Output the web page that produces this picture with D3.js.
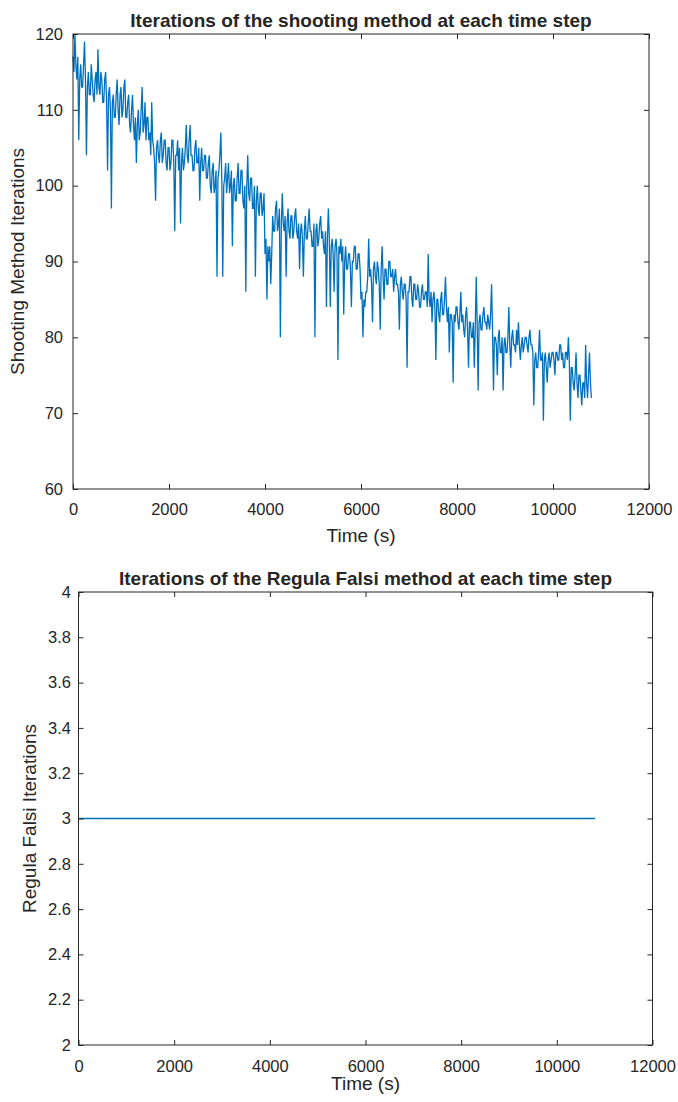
<!DOCTYPE html>
<html>
<head>
<meta charset="utf-8">
<title>Shooting method / Regula Falsi iterations</title>
<script src="https://d3js.org/d3.v7.min.js"></script>
<style>
  body { margin: 0; background: #fff; }
  svg text { font-family: "Liberation Sans", Arial, Helvetica, sans-serif; fill: #262626; }
</style>
</head>
<body>
<script>
"use strict";

// samples every 20 s (integer iteration counts)
var timeStep = 20;
var shootingIters = [
  117,115, 120,116, 114,117, 106,114, 116,113, 113,116, 119,114, 104,113, 115,112, 112,116,
  114,112, 111,114, 115,112, 118,113, 112,115, 114,111, 111,114, 115,111, 102,112, 113,110,
   97,111, 112,109, 109,112, 114,110, 108,112, 113,109, 110,113, 114,109, 109,111, 112,108,
  107,110, 112,108, 106,109, 103,108, 110,106, 107,110, 113,107, 108,111, 106,109, 109,106,
  107,104, 111,106, 105,103,  98,105, 106,104, 103,106, 107,103, 104,106, 106,103, 102,105,
  105,102, 103,106, 106,103,  94,104, 104,106, 102,105,  95,103, 105,102, 103,105, 108,104,
  103,106, 108,104, 104,102, 102,105, 106,103, 103,105,  98,103, 105,102, 102,104, 104,101,
  101,103, 104,100,  99,102, 103, 99, 100,102,  88,101, 102,104, 107,101,  88,100, 101,103,
   99,101, 103, 99, 100,102,  92,100, 101, 98,  98,101, 103, 99,  99,102, 102, 98,  97,100,
   86,100, 104, 99,  98,101, 101, 97,  97,100,  88, 98, 100, 97,  96, 99,  99, 96,  97, 99,
   91, 93,  85, 92,  90, 92,  87, 91,  96, 94,  94, 97,  98, 94,  95, 97,  80, 95,  99, 95,
   94, 96,  88, 95,  97, 94,  93, 96,  96, 93,  94, 96,  97, 94,  93, 95,  89, 94,  95, 93,
   88, 94,  96, 93,  93, 95,  97, 94,  94, 92,  92, 95,  80, 94,  95, 92,  93, 95,  96, 93,
   94, 92,  91, 94,  84, 93,  97, 93,  84, 92,  93, 91,  86, 92,  93, 91,  77, 92,  91, 93,
   90, 92,  83, 90,  92, 89,  89, 91,  91, 89,  84, 90,  90, 92,  92, 89,  89, 91,  91, 89,
   85, 86,  80, 85,  84, 86,  86, 88,  93, 88,  89, 87,  82, 89,  90, 88,  87, 90,  89, 87,
   81, 89,  92, 88,  85, 89,  89, 87,  87, 90,  90, 88,  88, 89,  86, 88,  89, 87,  87, 86,
   81, 87,  88, 86,  85, 87,  87, 85,  76, 86,  86, 88,  88, 85,  84, 87,  87, 85,  85, 87,
   86, 84,  84, 86,  87, 85,  85, 86,  86, 84,  91, 85,  84, 86,  82, 85,  86, 84,  77, 85,
   85, 83,  82, 85,  86, 83,  83, 85,  88, 84,  82, 84,  78, 83,  83, 82,  74, 83,  82, 84,
   84, 82,  81, 83,  86, 82,  83, 81,  80, 83,  84, 81,  76, 82,  82, 80,  80, 82,  76, 81,
   88, 82,  73, 82,  83, 81,  81, 83,  84, 82,  82, 81,  83, 82,  81, 83,  87, 81,  73, 80,
   80, 79,  75, 80,  81, 78,  78, 80,  73, 79,  80, 78,  78, 80,  84, 79,  76, 80,  81, 79,
   79, 78,  81, 79,  82, 79,  77, 79,  80, 78,  79, 80,  80, 79,  78, 80,  81, 79,  79, 78,
   71, 77,  78, 76,  76, 78,  81, 77,  77, 78,  69, 77,  78, 76,  74, 77,  78, 76,  77, 78,
   78, 77,  75, 78,  78, 77,  77, 79,  79, 77,  78, 76,  76, 78,  78, 77,  80, 77,  69, 76,
   76, 74,  73, 75,  78, 74,  72, 75,  75, 73,  71, 74,  74, 72,  79, 74,  72, 75,  78, 74,
   72
];

// Regula Falsi needed 3 iterations over the whole run
var regulaTime = [0, 10800];
var regulaIters = [3, 3];

var timeTicks = [0, 2000, 4000, 6000, 8000, 10000, 12000];
var shootingTicks = [60, 70, 80, 90, 100, 110, 120];
var regulaTicks = [2, 2.2, 2.4, 2.6, 2.8, 3, 3.2, 3.4, 3.6, 3.8, 4];

var shootingData = shootingIters.map(function (v, i) { return { t: i * timeStep, v: v }; });
var regulaData = regulaIters.map(function (v, i) { return { t: regulaTime[i], v: v }; });

var W = 678, H = 1102;
var ink = "#262626", lineColor = "#0072BD";

var svg = d3.select("body").append("svg")
  .attr("width", W)
  .attr("height", H);

svg.append("rect").attr("width", W).attr("height", H).attr("fill", "#fff");

var panels = [
  {
    left: 73, top: 34, width: 576, height: 455,
    yDomain: [60, 120], yTicks: shootingTicks,
    data: shootingData,
    title: "Iterations of the shooting method at each time step",
    titleY: 26.5,
    ylabel: "Shooting Method Iterations", ylabelX: 24,
    xlabelY: 542, xPad: 14, yPad: 10
  },
  {
    left: 78.5, top: 592, width: 574, height: 453,
    yDomain: [2, 4], yTicks: regulaTicks,
    data: regulaData,
    title: "Iterations of the Regula Falsi method at each time step",
    titleY: 585,
    ylabel: "Regula Falsi Iterations", ylabelX: 36,
    xlabelY: 1090, xPad: 15, yPad: 7.5
  }
];

panels.forEach(function (p) {
  var g = svg.append("g").attr("transform", "translate(" + p.left + "," + p.top + ")");

  var x = d3.scaleLinear().domain([0, 12000]).range([0, p.width]);
  var y = d3.scaleLinear().domain(p.yDomain).range([p.height, 0]);

  // data line first so the box sits on top of it
  g.append("path")
    .datum(p.data)
    .attr("fill", "none")
    .attr("stroke", lineColor)
    .attr("stroke-width", 1.3)
    .attr("d", d3.line().x(function (d) { return x(d.t); }).y(function (d) { return y(d.v); }));

  var fmt = d3.format("~g");

  // bottom / left axes carry labels, top / right only ticks; all ticks point inward
  var xAxis = g.append("g").attr("transform", "translate(0," + p.height + ")")
    .call(d3.axisBottom(x).tickValues(timeTicks).tickFormat(fmt)
      .tickSizeInner(-5).tickSizeOuter(0).tickPadding(p.xPad));
  var yAxis = g.append("g")
    .call(d3.axisLeft(y).tickValues(p.yTicks).tickFormat(fmt)
      .tickSizeInner(-5).tickSizeOuter(0).tickPadding(p.yPad));
  var xTop = g.append("g")
    .call(d3.axisTop(x).tickValues(timeTicks).tickFormat("").tickSizeInner(-5).tickSizeOuter(0));
  var yRight = g.append("g").attr("transform", "translate(" + p.width + ",0)")
    .call(d3.axisRight(y).tickValues(p.yTicks).tickFormat("").tickSizeInner(-5).tickSizeOuter(0));

  [xAxis, yAxis, xTop, yRight].forEach(function (a) {
    a.select(".domain").remove();
    a.selectAll(".tick line").attr("stroke", ink).attr("stroke-width", 1);
    a.selectAll("text").attr("font-size", 16.5).attr("fill", ink)
      .attr("font-family", "'Liberation Sans', Arial, sans-serif");
  });

  g.append("rect")
    .attr("width", p.width).attr("height", p.height)
    .attr("fill", "none").attr("stroke", ink).attr("stroke-width", 1);

  svg.append("text")
    .attr("x", p.left + p.width / 2).attr("y", p.titleY)
    .attr("text-anchor", "middle")
    .attr("font-size", 19).attr("font-weight", "bold")
    .attr("fill", "#000")
    .text(p.title);

  svg.append("text")
    .attr("x", p.left + p.width / 2).attr("y", p.xlabelY)
    .attr("text-anchor", "middle")
    .attr("font-size", 19)
    .text("Time (s)");

  svg.append("text")
    .attr("transform", "translate(" + p.ylabelX + "," + (p.top + p.height / 2) + ") rotate(-90)")
    .attr("text-anchor", "middle")
    .attr("font-size", 19)
    .text(p.ylabel);
});
</script>
</body>
</html>
